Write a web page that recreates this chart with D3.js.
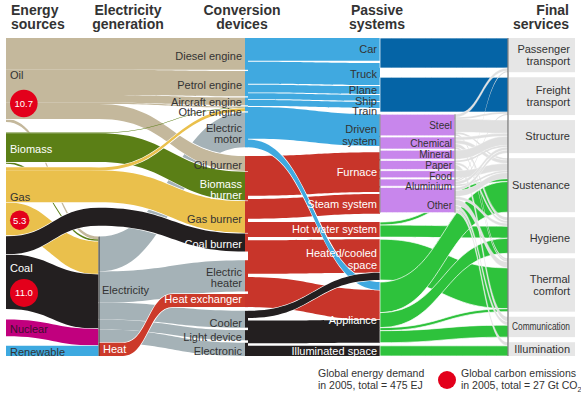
<!DOCTYPE html>
<html>
<head>
<meta charset="utf-8">
<script src="https://cdn.jsdelivr.net/npm/d3@7"></script>
<style>
  body { margin: 0; background: #fff; }
  svg text { font-family: "Liberation Sans", Arial, sans-serif; }
</style>
</head>
<body>
<script>
// ---- data, EJ ----
const sources = ["Oil", "Biomass", "Gas", "Coal", "Nuclear", "Renewable"];
const emissionSources = ["Oil", "Gas", "Coal"];
const emissionValues = [10.7, 5.3, 11.0];

const devices = ["Diesel engine", "Petrol engine", "Aircraft engine", "Other engine", "Electric motor",
  "Oil burner", "Biomass burner", "Gas burner", "Coal burner", "Electric heater", "Heat exchanger",
  "Cooler", "Light device", "Electronic"];
const deviceLabels = ["Diesel engine", "Petrol engine", "Aircraft engine", "Other engine", "Electric\nmotor",
  "Oil burner", "Biomass\nburner", "Gas burner", "Coal burner", "Electric\nheater", "Heat exchanger",
  "Cooler", "Light device", "Electronic"];
const deviceKinds = ["motion", "motion", "motion", "motion", "motion",
  "heat", "heat", "heat", "heat", "heat", "heat", "other", "other", "other"];

const passives = ["Car", "Truck", "Plane", "Ship", "Train", "Driven system", "Furnace", "Steam system",
  "Hot water system", "Heated/cooled space", "Appliance", "Illuminated space"];
const passiveLabels = ["Car", "Truck", "Plane", "Ship", "Train", "Driven\nsystem", "Furnace", "Steam system",
  "Hot water system", "Heated/cooled\nspace", "Appliance", "Illuminated space"];
const passiveGroups = ["vehicle", "vehicle", "vehicle", "vehicle", "vehicle", "factory", "factory", "factory",
  "building", "building", "building", "building"];

const processes = ["Steel", "Chemical", "Mineral", "Paper", "Food", "Aluminium", "Other"];
const processValues = [36, 20, 15, 15, 12, 12, 42];

const services = ["Passenger transport", "Freight transport", "Structure", "Sustenance", "Hygiene",
  "Thermal comfort", "Communication", "Illumination"];
const serviceLabels = ["Passenger\ntransport", "Freight\ntransport", "Structure", "Sustenance", "Hygiene",
  "Thermal\ncomfort", "Communication", "Illumination"];

// energy source -> conversion device (or electricity generation)
const sourceFlows = [
  ["Oil", "Diesel engine", 53], ["Oil", "Petrol engine", 42], ["Oil", "Aircraft engine", 13],
  ["Oil", "Other engine", 2], ["Oil", "Oil burner", 25], ["Oil", "Generation", 5],
  ["Biomass", "Other engine", 1], ["Biomass", "Biomass burner", 48], ["Biomass", "Generation", 3],
  ["Gas", "Other engine", 5], ["Gas", "Gas burner", 53], ["Gas", "Generation", 55],
  ["Coal", "Coal burner", 30], ["Coal", "Generation", 91],
  ["Nuclear", "Generation", 28], ["Renewable", "Generation", 17]
];
const generationFlows = [
  ["Electricity", "Electric motor", 58], ["Electricity", "Electric heater", 52], ["Electricity", "Cooler", 28],
  ["Electricity", "Light device", 17], ["Electricity", "Electronic", 22], ["Heat", "Heat exchanger", 22]
];
// conversion device -> passive system
const deviceFlows = [
  ["Diesel engine", "Car", 12], ["Diesel engine", "Truck", 30], ["Diesel engine", "Ship", 8], ["Diesel engine", "Train", 3],
  ["Petrol engine", "Car", 26], ["Petrol engine", "Truck", 7], ["Petrol engine", "Driven system", 9],
  ["Aircraft engine", "Plane", 13],
  ["Other engine", "Ship", 2], ["Other engine", "Train", 3], ["Other engine", "Driven system", 3],
  ["Electric motor", "Train", 4], ["Electric motor", "Driven system", 41], ["Electric motor", "Appliance", 13],
  ["Oil burner", "Furnace", 8], ["Oil burner", "Steam system", 5], ["Oil burner", "Hot water system", 4], ["Oil burner", "Heated/cooled space", 8],
  ["Biomass burner", "Furnace", 10], ["Biomass burner", "Steam system", 3], ["Biomass burner", "Hot water system", 5],
  ["Biomass burner", "Heated/cooled space", 10], ["Biomass burner", "Appliance", 20],
  ["Gas burner", "Furnace", 23], ["Gas burner", "Steam system", 10], ["Gas burner", "Hot water system", 8], ["Gas burner", "Heated/cooled space", 12],
  ["Coal burner", "Furnace", 20], ["Coal burner", "Steam system", 8], ["Coal burner", "Heated/cooled space", 2],
  ["Electric heater", "Furnace", 5], ["Electric heater", "Steam system", 2], ["Electric heater", "Hot water system", 5],
  ["Electric heater", "Heated/cooled space", 10], ["Electric heater", "Appliance", 30],
  ["Heat exchanger", "Steam system", 5], ["Heat exchanger", "Hot water system", 3], ["Heat exchanger", "Heated/cooled space", 14],
  ["Cooler", "Heated/cooled space", 12], ["Cooler", "Appliance", 16],
  ["Light device", "Illuminated space", 17],
  ["Electronic", "Appliance", 22]
];
// passive system / industrial process -> final service
const serviceFlows = [
  ["Car", "Passenger transport", 38], ["Plane", "Passenger transport", 8], ["Train", "Passenger transport", 4],
  ["Truck", "Freight transport", 37], ["Plane", "Freight transport", 5], ["Ship", "Freight transport", 10], ["Train", "Freight transport", 6],
  ["Steel", "Passenger transport", 5], ["Steel", "Freight transport", 3], ["Steel", "Structure", 22], ["Steel", "Sustenance", 3], ["Steel", "Thermal comfort", 3],
  ["Chemical", "Structure", 5], ["Chemical", "Sustenance", 6], ["Chemical", "Hygiene", 6], ["Chemical", "Thermal comfort", 3],
  ["Mineral", "Structure", 15],
  ["Paper", "Structure", 3], ["Paper", "Hygiene", 4], ["Paper", "Communication", 8],
  ["Food", "Sustenance", 12],
  ["Aluminium", "Passenger transport", 2], ["Aluminium", "Freight transport", 2], ["Aluminium", "Structure", 5], ["Aluminium", "Sustenance", 3],
  ["Other", "Structure", 5], ["Other", "Sustenance", 10], ["Other", "Hygiene", 5], ["Other", "Thermal comfort", 10],
  ["Other", "Communication", 6], ["Other", "Illumination", 6],
  ["Hot water system", "Sustenance", 5], ["Hot water system", "Hygiene", 20],
  ["Heated/cooled space", "Thermal comfort", 68],
  ["Appliance", "Sustenance", 51], ["Appliance", "Hygiene", 25], ["Appliance", "Thermal comfort", 5], ["Appliance", "Communication", 20],
  ["Illuminated space", "Illumination", 17]
];

// ---- styles ----
const sourceColor = { Oil: "#c4b89c", Biomass: "#5b7f16", Gas: "#eac04c", Coal: "#231f20", Nuclear: "#c1007e", Renewable: "#3da9e0" };
const sourceText = { Oil: "#333", Biomass: "#fff", Gas: "#333", Coal: "#fff", Nuclear: "#3a0f2c", Renewable: "#333" };
const kindColor = { motion: "#40a9e0", heat: "#c8352a", other: "#231f20" };
const elecColor = "#a5b2b7", heatColor = "#cc3a2a";
const groupColor = { vehicle: "#0564a6", factory: "#c886ec", building: "#2ec23c" };
const serviceGrey = "#e0e0e0";
const whiteText = new Set(["Biomass burner", "Coal burner", "Heat exchanger", "Furnace", "Steam system",
  "Hot water system", "Heated/cooled space", "Appliance", "Illuminated space"]);
// small vertical nudges so labels sit where the original puts them
const nudge = { "Aircraft engine": 0.5, "Other engine": 3.5, "Electric motor": 4, "Biomass burner": 4, "Heat exchanger": -1.5,
  "Cooler": 3.5, "Ship": 3, "Train": 6, "Driven system": 5, "Appliance": 8,
  "Paper": 1, "Food": 2, "Aluminium": 3.5, "Other": 5, "Hygiene": 3 };
const deviceShift = 2;

const W = 581, H = 397;
const yTop = 38, yBottom = 356;
const xSource = 6, xGen = 99, xDevice = 245, xPassive = 248, xGroup = 380, xProcess = 455, xService = 508;
const thick = d3.scaleLinear().domain([0, 1]).range([0, 0.6]);   // EJ -> px
const co2 = d3.scaleSqrt().domain([0, 11]).range([0, 14]);

const sumBy = (flows, key) => d3.rollup(flows, v => d3.sum(v, d => d[2]), d => d[key]);

// stack nodes between y0 and y1, spreading the leftover room over weighted gaps
function stack(names, values, gaps, y0 = yTop, y1 = yBottom) {
  const unit = (y1 - y0 - d3.sum(values, thick)) / d3.sum(gaps);
  const pos = new Map();
  let y = y0;
  names.forEach((n, i) => {
    y += gaps[i] * unit;
    pos.set(n, { y0: y, y1: y + thick(values[i]) });
    y += thick(values[i]);
  });
  return pos;
}

// offsets of each link inside its source and its target (spread: share source slack between links)
function route(flows, srcPos, tgtPos, spread) {
  const links = flows.map(([s, t, v]) => ({ s, t, v, w: thick(v) }));
  const mid = p => (p.y0 + p.y1) / 2;
  for (const [s, ls] of d3.group(links, d => d.s)) {
    const p = srcPos.get(s);
    const gap = spread && ls.length > 1 ? (p.y1 - p.y0 - d3.sum(ls, l => l.w)) / (ls.length - 1) : 0;
    let y = p.y0;
    ls.sort((a, b) => mid(tgtPos.get(a.t)) - mid(tgtPos.get(b.t))).forEach(l => { l.sy = y; y += l.w + gap; });
  }
  for (const [t, ls] of d3.group(links, d => d.t)) {
    let y = tgtPos.get(t).y0;
    ls.sort((a, b) => mid(srcPos.get(a.s)) - mid(srcPos.get(b.s))).forEach(l => { l.ty = y; y += l.w; });
  }
  return links;
}

function band(xs, ys, w) {
  let d = `M${xs[0]},${ys[0]}`;
  for (let i = 1; i < xs.length; i++) {
    const xm = (xs[i - 1] + xs[i]) / 2;
    d += `C${xm},${ys[i - 1]} ${xm},${ys[i]} ${xs[i]},${ys[i]}`;
  }
  d += `L${xs[xs.length - 1]},${ys[ys.length - 1] + w}`;
  for (let i = xs.length - 1; i > 0; i--) {
    const xm = (xs[i - 1] + xs[i]) / 2;
    d += `C${xm},${ys[i] + w} ${xm},${ys[i - 1] + w} ${xs[i - 1]},${ys[i - 1] + w}`;
  }
  return d + "Z";
}

function label(g, x, yc, text, anchor, color, size, lh) {
  const lines = text.split("\n");
  const t = g.append("text").attr("text-anchor", anchor).attr("fill", color).style("font-size", size + "px");
  lines.forEach((s, i) => t.append("tspan").attr("x", x)
    .attr("y", yc + (i - (lines.length - 1) / 2) * (lh || size + 1)).attr("dy", "0.35em").text(s));
  return t;
}

// ---- layout ----
const sourceVal = sumBy(sourceFlows, 0);
const deviceVal = sumBy(deviceFlows, 0);
const passiveVal = sumBy(deviceFlows, 1);
const serviceVal = sumBy(serviceFlows, 1);

const sourcePos = stack(sources, sources.map(s => sourceVal.get(s)), [0, 9, 3, 1, 9, 8]);
const devicePos = stack(devices, devices.map(d => deviceVal.get(d)), [0, 1, 1, 1, 1, 7, 0.5, 0.5, 0.5, 7, 2, 3, 2, 2]);
const passivePos = stack(passives, passives.map(p => passiveVal.get(p)), [0, 2, 1, 1, 1, 6, 6, 2, 8, 2, 2, 3]);
const servicePos = stack(services, services.map(s => serviceVal.get(s)), [0, 1, 1, 1, 1, 1, 1, 1]);

const genIn = d3.sum(sourceFlows.filter(f => f[1] === "Generation"), f => f[2]);
const genVal = sumBy(generationFlows, 0);
const genY0 = yBottom - thick(genIn);
const genPos = new Map([
  ["Electricity", { y0: genY0, y1: genY0 + thick(genVal.get("Electricity")) }],
  ["Heat", { y0: genY0 + thick(genVal.get("Electricity")), y1: yBottom }]
]);

const processPos = stack(processes, processValues, [0, 1, 1, 1, 1, 1, 1],
  passivePos.get("Driven system").y0,
  passivePos.get("Driven system").y0 + thick(d3.sum(processValues)) + 7.2);

// section 1
const tgt1 = new Map([...devicePos, ["Generation", { y0: genY0, y1: yBottom }]]);
const links1 = route(sourceFlows, sourcePos, tgt1);
const directVal = sumBy(sourceFlows.filter(f => f[1] !== "Generation"), 0);
const passNames = ["Oil", "Biomass", "Gas", "Coal"];
const passPos = stack(passNames.concat("_"), passNames.map(s => directVal.get(s)).concat(0), [0, 5, 2, 2, 4], yTop, genY0);
const linksGen = route(generationFlows, genPos, devicePos);

// section 2: flows bundled by kind of useful energy (motion, heat, other)
const kindOf = new Map(devices.map((d, i) => [d, deviceKinds[i]]));
const kindPos = new Map(Array.from(d3.group(devices, d => kindOf.get(d)), ([k, ds]) =>
  [k, { y0: d3.min(ds, d => devicePos.get(d).y0), y1: d3.max(ds, d => devicePos.get(d).y1) }]));
const kindFlows = [];
d3.rollup(deviceFlows, v => d3.sum(v, d => d[2]), d => kindOf.get(d[0]), d => d[1])
  .forEach((m, k) => m.forEach((v, t) => kindFlows.push([k, t, v])));
const links2 = route(kindFlows, kindPos, passivePos, true);

const links3 = route(serviceFlows, new Map([...passivePos, ...processPos]), servicePos);

// ---- draw ----
const svg = d3.select("body").append("svg").attr("width", W).attr("height", H);
const flowG = svg.append("g");

// every link outlined in white
const drawLinks = (links, pathFn, colorFn, sw = 0.7) => flowG.append("g").attr("stroke", "#fff")
  .selectAll("path").data(links).join("path")
  .attr("d", pathFn).attr("fill", colorFn)
  .attr("stroke-width", d => d.w < 2 ? 0 : sw);

// links of one bundle share an outline, so they only part where they fan out
function drawBundled(links, key, pathFn, colorFn) {
  for (const [, ls] of d3.group(links, key)) {
    const g = flowG.append("g");
    g.selectAll("path.edge").data(ls.filter(l => l.w >= 2)).join("path").attr("class", "edge")
      .attr("d", pathFn).attr("fill", "none").attr("stroke", "#fff").attr("stroke-width", 1.3);
    g.selectAll("path.body").data(ls).join("path").attr("class", "body")
      .attr("d", pathFn).attr("fill", colorFn);
  }
}

// energy sources -> generation
drawBundled(links1.filter(l => l.t === "Generation"), l => l.s,
  l => band([xSource, xGen], [l.sy, l.ty], l.w), l => sourceColor[l.s]);
// generation -> devices (heat leaves flat, turns up, and runs flat into the heat exchanger)
drawBundled(linksGen, l => l.s, l => l.s === "Heat"
    ? band([xGen, xGen + 24, xGen + 74, xDevice], [l.sy, l.sy, l.ty, l.ty], l.w)
    : band([xGen, xDevice], [l.sy, l.ty], l.w),
  l => l.s === "Heat" ? heatColor : elecColor);
// energy sources -> devices, passing above the generation node
drawBundled(links1.filter(l => l.t !== "Generation"), l => l.s, l => {
  const my = passPos.get(l.s).y0 + (l.sy - sourcePos.get(l.s).y0);
  return band([xSource, xGen, xDevice], [l.sy, my, l.ty], l.w);
}, l => sourceColor[l.s]);

// devices -> passive systems
drawBundled(links2.filter(l => l.s === "heat"), l => l.s, l => band([xPassive, xGroup], [l.sy, l.ty], l.w), kindColor.heat);
drawBundled(links2.filter(l => l.s !== "heat"), l => l.s, l => band([xPassive, xGroup], [l.sy, l.ty], l.w), l => kindColor[l.s]);

// passive systems -> final services
const groupOf = new Map(passives.map((p, i) => [p, passiveGroups[i]]));
drawLinks(links3.filter(l => groupOf.get(l.s) === "building"),
  l => band([xGroup, xService], [l.sy, l.ty], l.w), groupColor.building);

const vehicleBlocks = Array.from(d3.group(links3.filter(l => groupOf.get(l.s) === "vehicle"), l => l.t),
  ([t, ls]) => ({ y: d3.min(ls, l => l.ty), w: d3.sum(ls, l => l.w) }));
drawLinks(vehicleBlocks, b => band([xGroup, xService], [b.y, b.y], b.w), groupColor.vehicle);

const processBlocks = processes.map(p => ({ p, y: processPos.get(p).y0, w: processPos.get(p).y1 - processPos.get(p).y0 }));
drawLinks(processBlocks, b => band([xGroup, xProcess], [b.y, b.y], b.w), groupColor.factory);

drawLinks(links3.filter(l => processPos.has(l.s)),
  l => band([xProcess, xService], [l.sy, l.ty], l.w), serviceGrey, 0.35);

// node bars and rules
const nodeG = svg.append("g");
nodeG.selectAll("rect.dev").data(devices).join("rect").attr("class", "dev")
  .attr("x", xDevice).attr("width", xPassive - xDevice)
  .attr("y", d => devicePos.get(d).y0).attr("height", d => devicePos.get(d).y1 - devicePos.get(d).y0)
  .attr("fill", d => kindColor[kindOf.get(d)]);
nodeG.append("line").attr("x1", xGen).attr("x2", xGen).attr("y1", genY0).attr("y2", yBottom)
  .attr("stroke", "#333").attr("stroke-width", 1);
const pTop = processPos.get(processes[0]).y0, pBot = processPos.get(processes[processes.length - 1]).y1;
[xGroup, xProcess].forEach(x => nodeG.append("line").attr("x1", x).attr("x2", x).attr("y1", pTop).attr("y2", pBot)
  .attr("stroke", "#666").attr("stroke-width", 0.8));
nodeG.selectAll("rect.svc").data(services).join("rect").attr("class", "svc")
  .attr("x", xService + 1).attr("width", 575 - xService - 1)
  .attr("y", d => servicePos.get(d).y0).attr("height", d => servicePos.get(d).y1 - servicePos.get(d).y0)
  .attr("fill", "#e6e6e6");
nodeG.append("line").attr("x1", xService).attr("x2", xService).attr("y1", yTop).attr("y2", yBottom)
  .attr("stroke", "#555").attr("stroke-width", 1);

// labels
const lab = svg.append("g");
const hasCo2 = new Map(emissionSources.map((s, i) => [s, emissionValues[i]]));
sources.forEach(s => {
  const p = sourcePos.get(s), h = p.y1 - p.y0;
  if (hasCo2.has(s)) {
    label(lab, 10, p.y0 + 0.44 * h, s, "start", sourceText[s], 11);
    const r = co2(hasCo2.get(s));
    lab.append("circle").attr("cx", 10 + r).attr("cy", p.y0 + 0.78 * h).attr("r", r).attr("fill", "#e3001b");
    label(lab, 10 + r, p.y0 + 0.78 * h, d3.format(".1f")(hasCo2.get(s)), "middle", "#fff", 9.5);
  } else {
    label(lab, 10, (p.y0 + p.y1) / 2 + 1, s, "start", sourceText[s], 11);
  }
});
label(lab, xGen + 3, (genPos.get("Electricity").y0 + genPos.get("Electricity").y1) / 2, "Electricity", "start", "#333", 11);
label(lab, xGen + 4, (genPos.get("Heat").y0 + genPos.get("Heat").y1) / 2, "Heat", "start", "#fff", 11);

devices.forEach((d, i) => {
  const p = devicePos.get(d);
  const dy = d in nudge ? nudge[d] : deviceShift;
  label(lab, xDevice - 3, (p.y0 + p.y1) / 2 + dy, deviceLabels[i], "end", whiteText.has(d) ? "#fff" : "#333", 11, 11);
});
passives.forEach((d, i) => {
  const p = passivePos.get(d);
  label(lab, xGroup - 3, (p.y0 + p.y1) / 2 + (nudge[d] || 0), passiveLabels[i], "end", whiteText.has(d) ? "#fff" : "#333", 11, 12);
});
processes.forEach(d => {
  const p = processPos.get(d);
  label(lab, xProcess - 3, (p.y0 + p.y1) / 2 + (nudge[d] || 0), d, "end", "#333", 10);
});
services.forEach((d, i) => {
  const p = servicePos.get(d);
  const t = label(lab, 570, (p.y0 + p.y1) / 2 + (nudge[d] || 0), serviceLabels[i], "end", "#333", d === "Communication" ? 10 : 11, 12);
  if (d === "Communication") t.select("tspan").attr("textLength", 58).attr("lengthAdjust", "spacingAndGlyphs");
});

// headers
const head = svg.append("g").attr("fill", "#333").style("font-weight", "bold").style("font-size", "14px");
[["Energy\nsources", 11, "start"], ["Electricity\ngeneration", 128, "middle"], ["Conversion\ndevices", 242, "middle"],
 ["Passive\nsystems", 377, "middle"], ["Final\nservices", 569, "end"]].forEach(([t, x, a]) => {
  const tx = head.append("text").attr("text-anchor", a);
  t.split("\n").forEach((s, i) => tx.append("tspan").attr("x", x).attr("y", 15 + i * 14).text(s));
});

// footnotes
const foot = svg.append("g").attr("fill", "#333").style("font-size", "10.5px");
foot.append("text").attr("x", 318).attr("y", 377).text("Global energy demand");
foot.append("text").attr("x", 318).attr("y", 389).text("in 2005, total = 475 EJ");
foot.append("circle").attr("cx", 447).attr("cy", 380).attr("r", 9).attr("fill", "#e3001b");
foot.append("text").attr("x", 461).attr("y", 377).text("Global carbon emissions");
const ct = foot.append("text").attr("x", 461).attr("y", 389).text("in 2005, total = 27 Gt CO");
ct.append("tspan").attr("dy", 3).style("font-size", "7px").text("2");
</script>
</body>
</html>
